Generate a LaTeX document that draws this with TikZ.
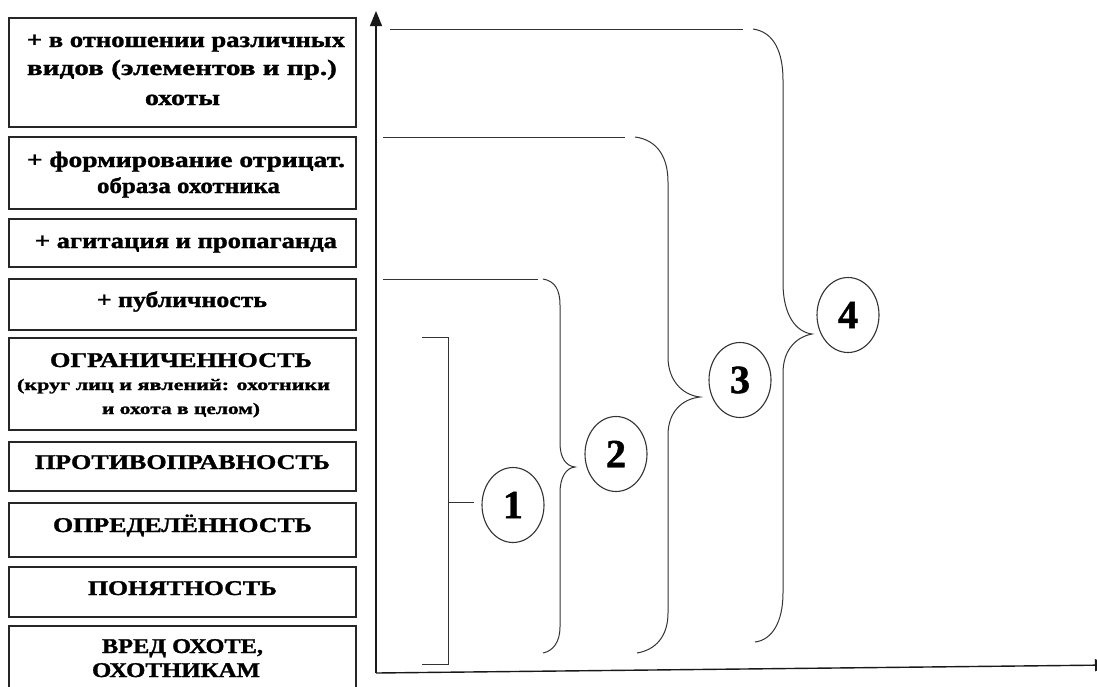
\documentclass[tikz,border=0pt]{standalone}
\usepackage{fontspec}
\setmainfont{Liberation Serif}[BoldFeatures={FakeBold=1.2}]
\usetikzlibrary{arrows.meta,shapes.geometric}
\newsavebox\fitbox
\newcommand\fitline[2]{\sbox\fitbox{#2}\pgfmathsetmacro\fitratio{#1/\the\wd\fitbox}\scalebox{\fitratio}[1]{\usebox\fitbox}}
\begin{document}
\begin{tikzpicture}[x=1pt,y=-1pt,
 box/.style={draw=black!85,line width=1.3pt,minimum width=347pt,inner sep=0pt},
 txt/.style={anchor=base,inner sep=0pt,font=\bfseries\fontsize{22}{26}\selectfont},
 captxt/.style={txt,font=\bfseries\fontsize{21}{25}\selectfont},
 smalltxt/.style={txt,font=\bfseries\fontsize{16}{19}\selectfont},
 brace/.style={draw=black!80,line width=1pt},
 num/.style={ellipse,draw=black!80,line width=1.1pt,minimum width=62pt,minimum height=75pt,inner sep=0pt,font=\bfseries\fontsize{40}{40}\selectfont},
 axis/.style={draw=black!90,line width=1.4pt}]
\useasboundingbox (0,0) rectangle (1097,686);
\clip (0,0) rectangle (1097,686);
\fill[white] (0,0) rectangle (1097,686);
% boxes
\node[box,minimum height=109pt] (b1) at (182.5,72.5) {};
\node[box,minimum height=72pt] (b2) at (182.5,173) {};
\node[box,minimum height=48pt] (b3) at (182.5,243) {};
\node[box,minimum height=51pt] (b4) at (182.5,304.5) {};
\node[box,minimum height=92pt] (b5) at (182.5,384) {};
\node[box,minimum height=49pt] (b6) at (182.5,466.5) {};
\node[box,minimum height=54pt] (b7) at (182.5,530) {};
\node[box,minimum height=50pt] (b8) at (182.5,592) {};
\node[box,minimum height=94pt] (b9) at (182.5,673) {};
% texts
\node[txt] (t1a) at (186,47) {\fitline{318}{+ в отношении различных}};
\node[txt] (t1b) at (182,75) {\fitline{310}{видов (элементов и пр.)}};
\node[txt] (t1c) at (182.5,105) {\fitline{75}{охоты}};
\node[txt] (t2a) at (186,167) {\fitline{318}{+ формирование отрицат.}};
\node[txt] (t2b) at (188.5,193) {\fitline{183}{образа охотника}};
\node[txt] (t3a) at (186,248) {\fitline{302}{+ агитация и пропаганда}};
\node[txt] (t4a) at (182,307) {\fitline{170}{+ публичность}};
\node[captxt] (t5a) at (181,367) {\fitline{262}{ОГРАНИЧЕННОСТЬ}};
\node[smalltxt] (t5b) at (173.5,390) {\fitline{313}{(круг лиц и явлений: охотники}};
\node[smalltxt] (t5c) at (181,414) {\fitline{158}{и охота в целом)}};
\node[captxt] (t6a) at (182.5,469) {\fitline{295}{ПРОТИВОПРАВНОСТЬ}};
\node[captxt] (t7a) at (182.5,532) {\fitline{259}{ОПРЕДЕЛЁННОСТЬ}};
\node[captxt] (t8a) at (182.5,595) {\fitline{189}{ПОНЯТНОСТЬ}};
\node[captxt] (t9a) at (182.5,653) {\fitline{161}{ВРЕД ОХОТЕ,}};
\node[captxt] (t9b) at (176,677) {\fitline{168}{ОХОТНИКАМ}};
% axes
\coordinate (O) at (376,673);
\coordinate (Ytop) at (376,11);
\coordinate (Xend) at (1110,665);
\draw[axis,-{Triangle[length=15pt,width=12pt]}] (O) -- (Ytop);
\draw[axis,-{Triangle[length=15pt,width=12pt]}] (O) -- (Xend);
% level lines
\draw[brace] (390,29) -- (743,29);
\draw[brace] (383,137) -- (625,137);
\draw[brace] (383,279) -- (538,279);
% bracket 1
\draw[brace] (422,337) -- (448,337) -- (448,664) -- (422,664);
\coordinate (k1) at (474,502);
\draw[brace] (448,502) -- (k1);
% brace 2
\draw[brace] (543,279) .. controls (555,281) and (560,290) .. (560,305)
  -- (560,443) .. controls (560,458) and (566,466) .. (575,467)
  .. controls (566,468) and (560,477) .. (560,493)
  -- (560,627) .. controls (560,642) and (553,651) .. (543,653);
% brace 3
\draw[brace] (635,137) .. controls (658,140) and (668,158) .. (668,182)
  -- (668,357) .. controls (668,380) and (682,395) .. (700,397)
  .. controls (682,399) and (668,412) .. (668,435)
  -- (668,613) .. controls (668,637) and (655,650) .. (637,653);
% brace 4
\draw[brace] (753,29) .. controls (774,32) and (783,52) .. (783,80)
  -- (783,283) .. controls (783,315) and (796,332) .. (812,334)
  .. controls (796,337) and (783,350) .. (783,373)
  -- (783,593) .. controls (783,622) and (772,640) .. (755,642);
% numbers
\node[num] (n1) at (513,505) {\raisebox{-7pt}{1}};
\node[num] (n2) at (616,454) {\raisebox{-7pt}{2}};
\node[num] (n3) at (740,380) {\raisebox{-7pt}{3}};
\node[num] (n4) at (848,315) {\raisebox{-7pt}{4}};
\end{tikzpicture}
\end{document}
